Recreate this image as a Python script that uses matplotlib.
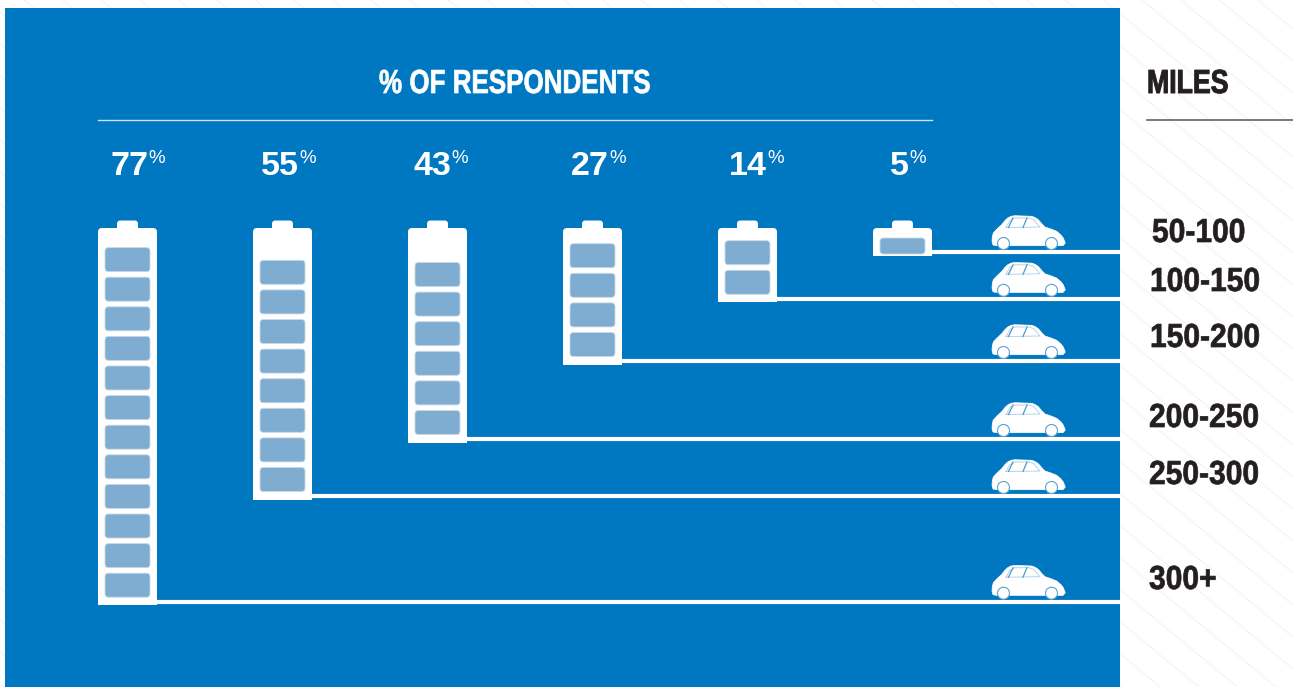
import numpy as np
import matplotlib
matplotlib.use("Agg")
import matplotlib.pyplot as plt
from matplotlib.patches import FancyBboxPatch, Rectangle, Circle, PathPatch
from matplotlib.path import Path
from matplotlib.patheffects import AbstractPathEffect
from matplotlib.transforms import Affine2D

# Data
percents = [77, 55, 43, 27, 14, 5]
cell_counts = [12, 8, 6, 4, 2, 1]
mile_labels = ["300+", "250-300", "200-250", "150-200", "100-150", "50-100"]

# Layout (pixels)
row_y = [601.7, 496, 439, 361, 298.8, 252]
label_y = [589, 484, 427, 347, 291, 242]
label_x = [1149, 1149, 1149, 1150, 1150, 1152]
batt_x = [98, 253, 408, 563, 718, 873]
pct_x = [110, 261, 414, 571, 729, 890]

BLUE = "#0078C1"
CELL = "#7FADD1"
INK = "#231F20"


class Squeeze(AbstractPathEffect):
    # narrows glyphs around the text origin and thickens them a little
    def __init__(self, sx, stroke=0.5):
        super().__init__()
        self.sx = sx
        self.stroke = stroke

    def draw_path(self, renderer, gc, tpath, affine, rgbFace=None):
        gc0 = renderer.new_gc()
        gc0.copy_properties(gc)
        gc0.set_linewidth(self.stroke)
        gc0.set_foreground(rgbFace)
        renderer.draw_path(gc0, tpath, Affine2D().scale(self.sx, 1) + affine, rgbFace)
        gc0.restore()


fig = plt.figure(figsize=(12.93, 6.87), dpi=100)
ax = fig.add_axes([0, 0, 1, 1])
ax.set_xlim(0, 1293)
ax.set_ylim(687, 0)
ax.axis("off")

# faint diagonal texture behind everything
for c in np.arange(-1300, 1300, 32):
    xs = np.array([0, 1293])
    ax.plot(xs, c + xs * 0.83, color="#F2F2F2", lw=0.7, zorder=0)

ax.add_patch(Rectangle((5, 8), 1115, 679, fc=BLUE, ec="none", zorder=1))

# header
ax.text(379, 93, "% OF RESPONDENTS", color="white", family="Liberation Sans", weight="bold",
        fontsize=24, ha="left", va="baseline", zorder=5, path_effects=[Squeeze(0.78)])
ax.plot([98, 932], [119.5, 119.5], color="#CFE3F1", lw=1, zorder=3)
ax.text(1147, 93, "MILES", color=INK, family="Liberation Sans", weight="bold",
        fontsize=24, ha="left", va="baseline", zorder=5, path_effects=[Squeeze(0.8, 0.7)])
ax.plot([1147, 1293], [119.5, 119.5], color="#555555", lw=1.1, zorder=3)


def draw_battery(x, bottom, n_cells):
    w = 59
    top = 228
    # cap and body
    ax.add_patch(FancyBboxPatch((x + 19, 220.5), 21, 12, boxstyle="round,pad=0,rounding_size=3.5",
                                fc="white", ec="none", zorder=3))
    ax.add_patch(FancyBboxPatch((x, top), w, 14, boxstyle="round,pad=0,rounding_size=4",
                                fc="white", ec="none", zorder=3))
    ax.add_patch(Rectangle((x, top + 6), w, bottom - top - 6, fc="white", ec="none", zorder=3))
    # charge cells stacked from the bottom
    h = 24 if n_cells > 1 else 16
    margin = 8 if n_cells > 1 else 1.5
    for k in range(n_cells):
        y = bottom - margin - k * 29.6 - h
        ax.add_patch(FancyBboxPatch((x + 7, y), 45, h, boxstyle="round,pad=0,rounding_size=3.5",
                                    fc=CELL, ec="#C5D9EA", lw=0.6, zorder=4))


# car outline, x from the rear and y measured up from the wheels
car_verts = [
    (0, 7.7), (0.3, 12), (1.3, 16), (5, 20), (9.7, 24.3), (13, 28.5), (15.7, 31), (19, 32.7), (23, 33.3),
    (39.7, 32.7), (43, 31.5), (46.3, 29.3), (50, 25), (53, 22), (59, 20), (64.7, 17.7), (69, 14),
    (71.3, 11), (73.3, 6), (71, 3.3), (5, 3.3), (1, 4), (0, 7.7),
]
car_codes = [Path.MOVETO] + [Path.LINETO] * (len(car_verts) - 2) + [Path.CLOSEPOLY]


def draw_car(base):
    x0 = 992
    y0 = base - 2.5
    v = [(x0 + a, y0 - b) for a, b in car_verts]
    ax.add_patch(PathPatch(Path(v, car_codes), fc="white", ec="white", lw=0.5, zorder=3, joinstyle="round"))
    # window frame and pillars
    frame = [(14, 21.5), (18, 28.5), (23, 31), (37, 31), (41.5, 29.5), (48, 22), (14, 21.5)]
    ax.plot([x0 + a for a, b in frame], [y0 - b for a, b in frame], color="#A9CDE6", lw=0.6, zorder=4)
    for a0, a1 in [(16.5, 21), (31, 35)]:
        ax.plot([x0 + a0, x0 + a1], [y0 - 21.5, y0 - 31], color="#4C9BD0", lw=0.9, zorder=4)
    for cx in (11.5, 59.5):
        ax.add_patch(Circle((x0 + cx, y0 - 5.5), 6, fc="white", ec="#5AA2D4", lw=0.8, zorder=4))


for i in range(len(percents)):
    x = batt_x[i]
    y = row_y[i]
    bottom = y + 3.5
    ax.plot([x + 50, 1120], [y, y], color="white", lw=3, solid_capstyle="butt", zorder=2)
    draw_battery(x, bottom, cell_counts[i])
    draw_car(y - 0.5)
    t = ax.text(pct_x[i], 175, str(percents[i]), color="white", family="Liberation Sans", weight="bold",
                fontsize=24.5, ha="left", va="baseline", zorder=5)
    ax.annotate("%", xy=(1, 1), xycoords=t, xytext=(0, 1), textcoords="offset points", color="white",
                family="Liberation Sans", fontsize=13.5, ha="left", va="top", zorder=5)
    ax.text(label_x[i], label_y[i], mile_labels[i], color=INK, family="Liberation Sans", weight="bold",
            fontsize=24, ha="left", va="baseline", zorder=5, path_effects=[Squeeze(0.9)])

fig.savefig("out.png", dpi=100)
